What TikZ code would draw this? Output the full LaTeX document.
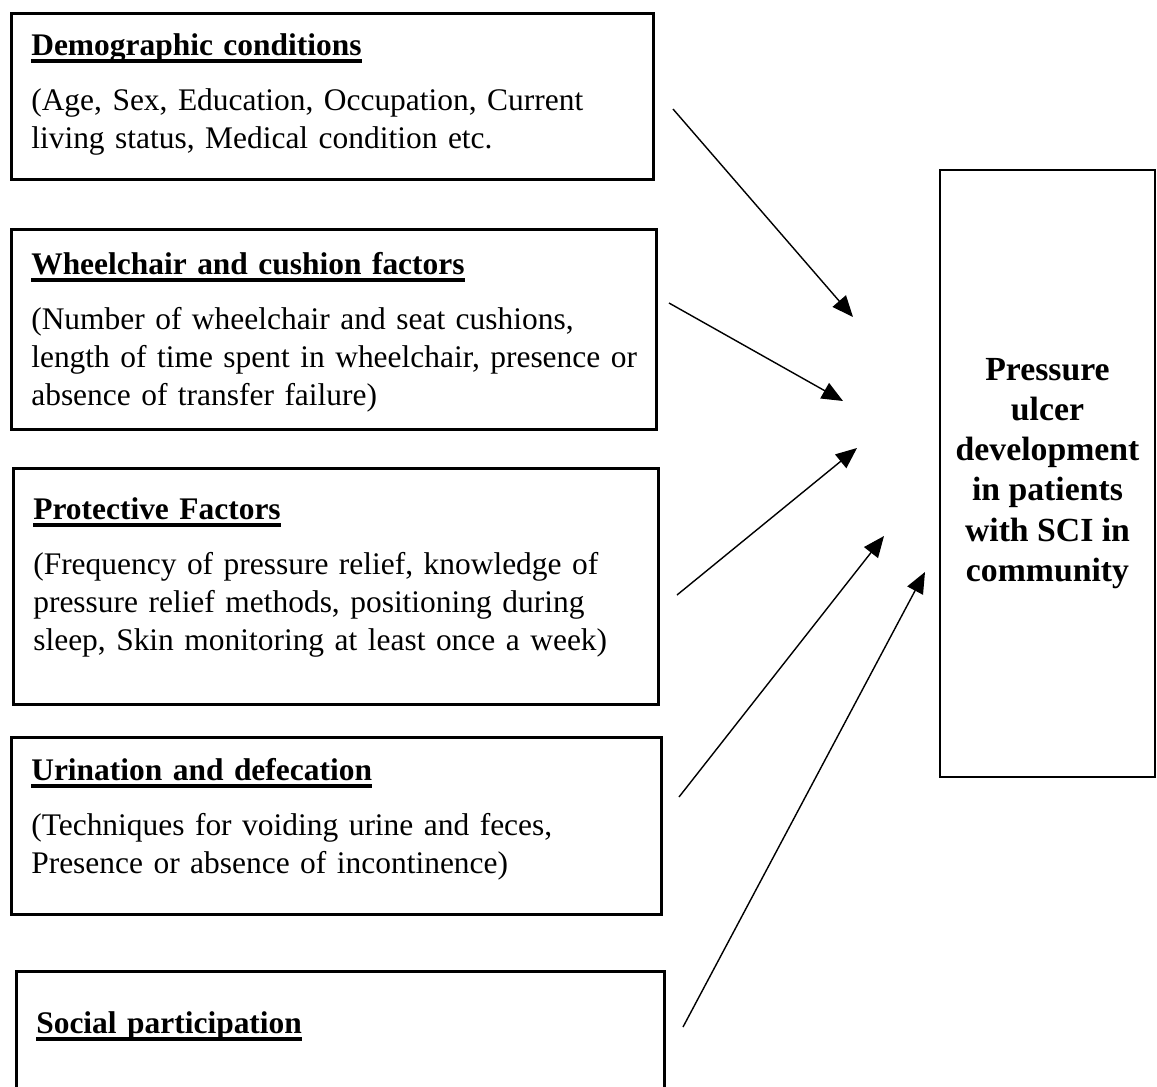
\documentclass[tikz,border=0pt]{standalone}
\usepackage{fontspec}
\setmainfont{Liberation Serif}
\usetikzlibrary{arrows.meta}
\newsavebox{\headbox}
\newcommand{\ulhead}[1]{\sbox{\headbox}{\textbf{#1}}\rlap{\rule[-4.5pt]{\wd\headbox}{2.2pt}}\usebox{\headbox}}

\begin{document}
\begin{tikzpicture}[x=0.02cm, y=-0.02cm,
  >={Triangle[length=12pt,width=10pt]},
  factor/.style={draw, line width=1.5pt, anchor=north west, align=left,
                 inner xsep=0.4cm, inner ysep=0pt,
                 font=\fontsize{17.9}{21.6}\selectfont},
  outcome/.style={draw, line width=1.5pt, align=center,
                  minimum width=4.3cm, minimum height=12.14cm,
                  font=\fontsize{19.2}{22.8}\selectfont\bfseries},
  link/.style={->, line width=0.8pt}]
\useasboundingbox (0,0) rectangle (1157,1086);
\clip (0,0) rectangle (1157,1086);

% factor boxes
\node[factor, text width=12.04cm, text height=0.84cm, text depth=2.48cm] (demo) at (10,12)
  {\ulhead{Demographic conditions}\\[10pt]
   (Age, Sex, Education, Occupation, Current\\
   living status, Medical condition etc.};
\node[factor, text width=12.1cm, text height=0.9cm, text depth=3.1cm] (wheel) at (10,228)
  {\ulhead{Wheelchair and cushion factors}\\[10pt]
   (Number of wheelchair and seat cushions,\\
   \mbox{length of time spent in wheelchair, presence or}\\
   absence of transfer failure)};
\node[factor, text width=12.1cm, text height=1.02cm, text depth=3.7cm] (prot) at (12,467)
  {\ulhead{Protective Factors}\\[10pt]
   (Frequency of pressure relief, knowledge of\\
   pressure relief methods, positioning during\\
   sleep, Skin monitoring at least once a week)};
\node[factor, text width=12.2cm, text height=0.86cm, text depth=2.68cm] (urin) at (10,736)
  {\ulhead{Urination and defecation}\\[10pt]
   (Techniques for voiding urine and feces,\\
   Presence or absence of incontinence)};
\node[factor, text width=12.16cm, text height=1.24cm, text depth=3cm] (social) at (15,970)
  {\ulhead{Social participation}};

% outcome
\node[outcome] (ulcer) at (1047.5,473.5)
  {Pressure\\ulcer\\development\\in patients\\with SCI in\\community};

% arrow ends
\coordinate (demo-src) at (673,109);   \coordinate (demo-tip) at (853,317);
\coordinate (wheel-src) at (669,303);  \coordinate (wheel-tip) at (843,401);
\coordinate (prot-src) at (677,595);   \coordinate (prot-tip) at (857,448);
\coordinate (urin-src) at (679,797);   \coordinate (urin-tip) at (884,536);
\coordinate (social-src) at (683,1027); \coordinate (social-tip) at (925,572);

\foreach \f in {demo,wheel,prot,urin,social}
  \draw[link] (\f-src) -- (\f-tip);
\end{tikzpicture}
\end{document}
